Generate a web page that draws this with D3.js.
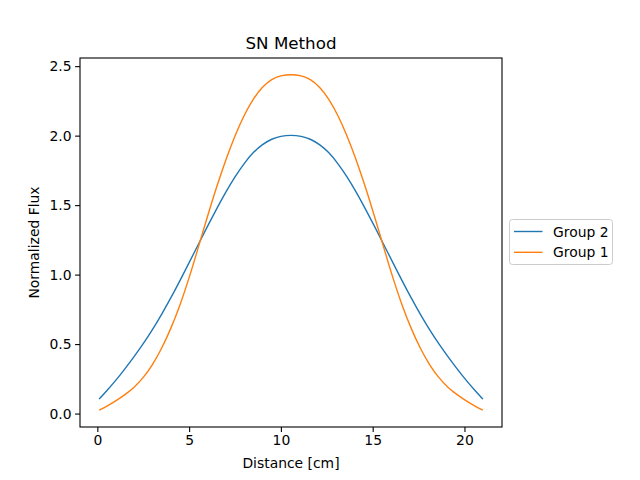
<!DOCTYPE html>
<html>
<head>
  <meta charset="utf-8">
  <title>SN Method</title>
  <script src="https://d3js.org/d3.v7.min.js"></script>
  <style>
    body {
      margin: 0;
      background: #fff;
    }
    svg text {
      font-family: "DejaVu Sans", sans-serif;
      fill: #000;
    }
  </style>
</head>
<body>
  <div id="chart"></div>

  <script>
    // Values
    var distance = [0.1, 0.5, 1.0, 1.5, 2.0, 2.5, 3.0, 3.5, 4.0, 4.5, 5.0, 5.5, 6.0, 6.5, 7.0, 7.5, 8.0, 8.5, 9.0, 9.5, 10.0, 10.55,
                    11.1, 11.6, 12.1, 12.6, 13.1, 13.6, 14.1, 14.6, 15.1, 15.6, 16.1, 16.6, 17.1, 17.6, 18.1, 18.6, 19.1, 19.6, 20.1, 20.6, 21.0];
    var group2 = [0.104, 0.162, 0.239, 0.322, 0.41, 0.503, 0.604, 0.714, 0.832, 0.957, 1.086, 1.217, 1.347, 1.473, 1.593, 1.703, 1.799, 1.878, 1.935, 1.974, 1.995, 2.002,
                  1.995, 1.974, 1.935, 1.878, 1.799, 1.703, 1.593, 1.473, 1.347, 1.217, 1.086, 0.957, 0.832, 0.714, 0.604, 0.503, 0.41, 0.322, 0.239, 0.162, 0.104];
    var group1 = [0.024, 0.052, 0.091, 0.136, 0.19, 0.26, 0.353, 0.47, 0.613, 0.782, 0.978, 1.196, 1.418, 1.63, 1.825, 1.998, 2.145, 2.263, 2.348, 2.403, 2.43, 2.438,
                  2.43, 2.403, 2.348, 2.263, 2.145, 1.998, 1.825, 1.63, 1.418, 1.196, 0.978, 0.782, 0.613, 0.47, 0.353, 0.26, 0.19, 0.136, 0.091, 0.052, 0.024];
    var xTicks = [0, 5, 10, 15, 20];
    var yTicks = [0.0, 0.5, 1.0, 1.5, 2.0, 2.5];
    var seriesNames = ["Group 2", "Group 1"];
    var seriesColors = ["#1f77b4", "#ff7f0e"];

    var width = 640, height = 480;
    var plotLeft = 80, plotTop = 58, plotRight = 502, plotBottom = 427;

    var svg = d3.select("#chart")
      .append("svg")
      .attr("width", width)
      .attr("height", height);

    // matplotlib style 5% margins
    var xMin = d3.min(distance), xMax = d3.max(distance);
    var xPad = (xMax - xMin) * 0.05;
    var allY = group1.concat(group2);
    var yMin = d3.min(allY), yMax = d3.max(allY);
    var yPad = (yMax - yMin) * 0.05;

    var x = d3.scaleLinear().domain([xMin - xPad, xMax + xPad]).range([plotLeft, plotRight]);
    var y = d3.scaleLinear().domain([yMin - yPad, yMax + yPad]).range([plotBottom, plotTop]);

    var line = d3.line()
      .x(function(d) { return x(d[0]); })
      .y(function(d) { return y(d[1]); })
      .curve(d3.curveNatural);

    var series = [group2, group1];
    series.forEach(function(vals, i) {
      svg.append("path")
        .datum(distance.map(function(d, j) { return [d, vals[j]]; }))
        .attr("fill", "none")
        .attr("stroke", seriesColors[i])
        .attr("stroke-width", 1.4)
        .attr("d", line);
    });

    // axes
    var xAxis = svg.append("g")
      .attr("transform", "translate(0," + plotBottom + ")")
      .call(d3.axisBottom(x).tickValues(xTicks).tickSize(4.9).tickPadding(3.5).tickFormat(d3.format("d")));
    var yAxis = svg.append("g")
      .attr("transform", "translate(" + plotLeft + ",0)")
      .call(d3.axisLeft(y).tickValues(yTicks).tickSize(4.9).tickPadding(3.5).tickFormat(d3.format(".1f")));

    [xAxis, yAxis].forEach(function(g) {
      g.select(".domain").remove();
      g.selectAll(".tick line").attr("stroke", "#000").attr("stroke-width", 1.1);
      g.selectAll(".tick text").attr("font-size", "13.9px").attr("font-family", "DejaVu Sans");
    });

    // frame
    svg.append("rect")
      .attr("x", plotLeft)
      .attr("y", plotTop)
      .attr("width", plotRight - plotLeft)
      .attr("height", plotBottom - plotTop)
      .attr("fill", "none")
      .attr("stroke", "#000")
      .attr("stroke-width", 1.1);

    // title and labels
    svg.append("text")
      .attr("x", (plotLeft + plotRight) / 2)
      .attr("y", 49)
      .attr("text-anchor", "middle")
      .attr("font-size", "16.7px")
      .text("SN Method");

    svg.append("text")
      .attr("x", (plotLeft + plotRight) / 2)
      .attr("y", 468)
      .attr("text-anchor", "middle")
      .attr("font-size", "13.9px")
      .text("Distance [cm]");

    svg.append("text")
      .attr("transform", "translate(39," + ((plotTop + plotBottom) / 2) + ") rotate(-90)")
      .attr("text-anchor", "middle")
      .attr("font-size", "13.9px")
      .text("Normalized Flux");

    // legend
    var legend = svg.append("g");
    legend.append("rect")
      .attr("x", 509.5)
      .attr("y", 219.5)
      .attr("width", 103)
      .attr("height", 45)
      .attr("rx", 3)
      .attr("fill", "#fff")
      .attr("fill-opacity", 0.8)
      .attr("stroke", "#cccccc")
      .attr("stroke-width", 1);

    seriesNames.forEach(function(name, i) {
      var ry = 231.5 + i * 20.8;
      legend.append("line")
        .attr("x1", 514)
        .attr("x2", 542.5)
        .attr("y1", ry)
        .attr("y2", ry)
        .attr("stroke", seriesColors[i])
        .attr("stroke-width", 1.4);
      legend.append("text")
        .attr("x", 553)
        .attr("y", ry + 5)
        .attr("font-size", "13.9px")
        .text(name);
    });
  </script>
</body>
</html>
